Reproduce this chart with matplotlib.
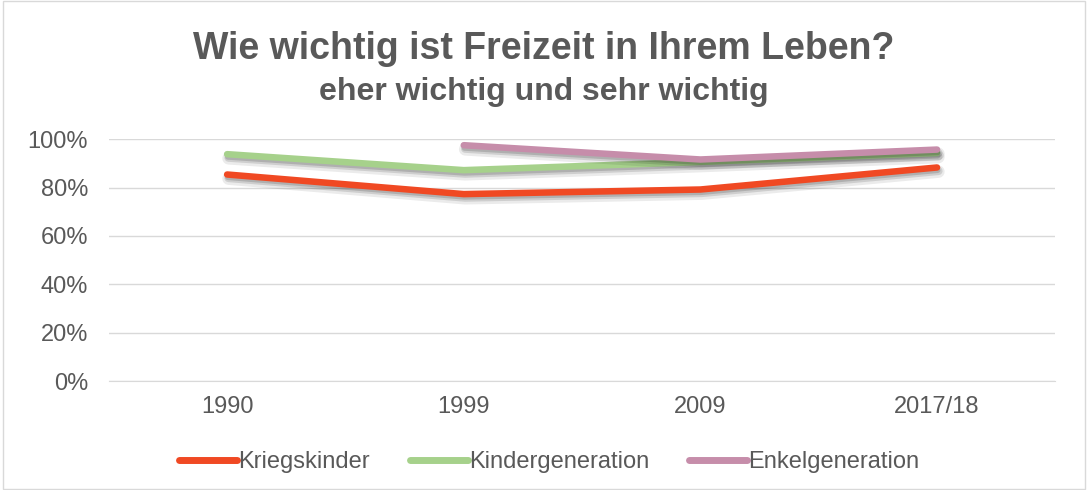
import matplotlib
matplotlib.use("Agg")
import matplotlib.pyplot as plt
import matplotlib.patheffects as pe
import numpy as np

categories = ["1990", "1999", "2009", "2017/18"]
kriegskinder = [85.4, 77.3, 79.2, 88.3]
kindergeneration = [93.8, 87.2, 90.6, 94.3]
enkelgeneration = [np.nan, 97.5, 91.6, 95.7]
series_names = ["Kriegskinder", "Kindergeneration", "Enkelgeneration"]
colors = ["#F04923", "#A6D18B", "#C68DAA"]
yticks = [0, 20, 40, 60, 80, 100]

plt.rcParams['font.family'] = ['Liberation Sans', 'DejaVu Sans']
text_color = "#595959"

fig = plt.figure(figsize=(10.88, 4.9), dpi=100)
ax = fig.add_axes([0.100, 0.222, 0.870, 0.494])

x = np.arange(len(categories))
shadow = [pe.SimpleLineShadow(offset=(1.0, -3.0), shadow_color='black', alpha=0.08, linewidth=9),
          pe.SimpleLineShadow(offset=(1.0, -2.5), shadow_color='black', alpha=0.12, linewidth=6),
          pe.SimpleLineShadow(offset=(0.5, -2.0), shadow_color='black', alpha=0.15, linewidth=4),
          pe.Normal()]
for vals, name, c in zip([kriegskinder, kindergeneration, enkelgeneration], series_names, colors):
    ax.plot(x, vals, color=c, lw=4.7, label=name, solid_capstyle='round', solid_joinstyle='round',
            path_effects=shadow)

ax.set_xlim(-0.5, len(categories) - 0.5)
ax.set_ylim(0, 100)
ax.set_yticks(yticks)
ax.set_yticklabels([f"{v}%" for v in yticks])
ax.set_xticks(x)
ax.set_xticklabels(categories)
ax.grid(axis='y', color='#D9D9D9', lw=1)
ax.set_axisbelow(True)
for s in ['top', 'right', 'left']:
    ax.spines[s].set_visible(False)
ax.spines['bottom'].set_color('#D9D9D9')
ax.tick_params(axis='both', length=0, labelsize=17, colors=text_color)
ax.tick_params(axis='x', pad=11)
ax.tick_params(axis='y', pad=15)

fig.text(0.5, 0.900, "Wie wichtig ist Freizeit in Ihrem Leben?", ha='center', va='center',
         fontsize=27, fontweight='bold', color=text_color)
fig.text(0.5, 0.812, "eher wichtig und sehr wichtig", ha='center', va='center',
         fontsize=23, fontweight='bold', color=text_color)

leg = fig.legend(loc='center', bbox_to_anchor=(0.505, 0.057), ncol=3, frameon=False,
                 fontsize=17, handlelength=2.45, handletextpad=0.05, columnspacing=1.7)
for t in leg.get_texts():
    t.set_color(text_color)
for h in leg.get_lines():
    h.set_path_effects([])
    h.set_linewidth(5)

border = plt.Rectangle((0.003, 0.003), 0.994, 0.994, transform=fig.transFigure, fill=False,
                       edgecolor='#D9D9D9', lw=1)
fig.patches.append(border)

fig.savefig("out.png", dpi=100, facecolor='white')
